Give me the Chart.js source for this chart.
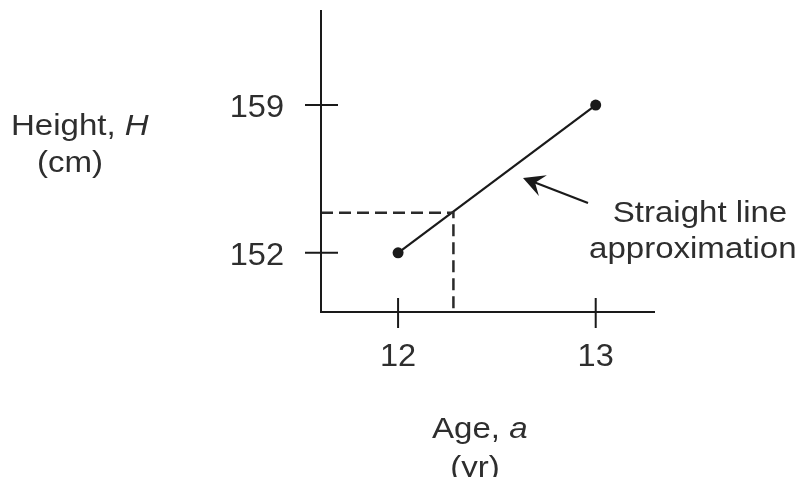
<!DOCTYPE html>
<html>
<head>
<meta charset="utf-8">
<title>Height vs age</title>
<script src="https://cdn.jsdelivr.net/npm/chart.js@4/dist/chart.umd.min.js"></script>
<style>
  html, body { margin: 0; padding: 0; background: #fff; }
  #wrap { width: 801px; height: 477px; }
</style>
</head>
<body>
<div id="wrap"><canvas id="chart"></canvas></div>
<script>
// measured points
const ages = [12, 13];
const heights = [152, 159];
// value
const readAge = [12.28];
const readHeight = [153.9];
// labelled ticks
const xTicks = [12, 13];
const yTicks = [152, 159];
// axis extents
const xRange = [11.61, 13.3];
const yRange = [149.2, 163.5];

const ink = "#1a1a1a";
const textInk = "#2e2e2e";
const family = '"Liberation Sans", Arial, sans-serif';
const titleSize = 29.5;
const titleStretch = 1.12;

// text in the drawing is a bit wide, so stretch it horizontally
function drawText(ctx, str, x, y, size, align, italic, sx) {
  ctx.save();
  ctx.font = (italic ? "italic " : "") + size + "px " + family;
  ctx.fillStyle = textInk;
  ctx.textBaseline = "alphabetic";
  const w = ctx.measureText(str).width * sx;
  let left = x;
  if (align === "center") left = x - w / 2;
  if (align === "right") left = x - w;
  ctx.translate(left, y);
  ctx.scale(sx, 1);
  ctx.textAlign = "left";
  ctx.fillText(str, 0, 0);
  ctx.restore();
  return w;
}

const axesPlugin = {
  id: "handAxes",
  afterDraw(chart) {
    const ctx = chart.ctx;
    const area = chart.chartArea;
    const xs = chart.scales.x;
    const ys = chart.scales.y;

    ctx.save();
    ctx.strokeStyle = ink;
    ctx.lineWidth = 2;
    ctx.beginPath();
    ctx.moveTo(area.left, area.top);
    ctx.lineTo(area.left, area.bottom);
    ctx.lineTo(area.right, area.bottom);
    ctx.stroke();

    // ticks crossing the axes
    ctx.beginPath();
    yTicks.forEach(v => {
      const py = ys.getPixelForValue(v);
      ctx.moveTo(area.left - 16, py);
      ctx.lineTo(area.left + 17, py);
    });
    xTicks.forEach(v => {
      const px = xs.getPixelForValue(v);
      ctx.moveTo(px, area.bottom - 14);
      ctx.lineTo(px, area.bottom + 16);
    });
    ctx.stroke();
    ctx.restore();

    // tick labels
    yTicks.forEach(v => {
      drawText(ctx, String(v), area.left - 37, ys.getPixelForValue(v) + 12, 31, "right", false, 1.05);
    });
    xTicks.forEach(v => {
      drawText(ctx, String(v), xs.getPixelForValue(v), area.bottom + 54, 31, "center", false, 1.05);
    });

    // axis titles
    let w = drawText(ctx, "Height, ", 11, 135, titleSize, "left", false, titleStretch);
    drawText(ctx, "H", 11 + w, 135, titleSize, "left", true, titleStretch);
    drawText(ctx, "(cm)", 70, 172, titleSize, "center", false, titleStretch);

    w = drawText(ctx, "Age, ", 432, 438, titleSize, "left", false, titleStretch);
    drawText(ctx, "a", 432 + w, 438, titleSize, "left", true, titleStretch);
    drawText(ctx, "(yr)", 475, 477, titleSize, "center", false, titleStretch);

    // annotation
    drawText(ctx, "Straight line", 700, 222, titleSize, "center", false, titleStretch);
    drawText(ctx, "approximation", 589, 258, titleSize, "left", false, titleStretch);

    const tip = { x: 523, y: 178 };
    const tail = { x: 588, y: 203 };
    const ang = Math.atan2(tail.y - tip.y, tail.x - tip.x);
    ctx.save();
    ctx.strokeStyle = ink;
    ctx.fillStyle = ink;
    ctx.lineWidth = 2.2;
    ctx.beginPath();
    ctx.moveTo(tip.x + 10 * Math.cos(ang), tip.y + 10 * Math.sin(ang));
    ctx.lineTo(tail.x, tail.y);
    ctx.stroke();
    const len = 24, spread = 0.48;
    ctx.beginPath();
    ctx.moveTo(tip.x, tip.y);
    ctx.lineTo(tip.x + len * Math.cos(ang - spread), tip.y + len * Math.sin(ang - spread));
    ctx.lineTo(tip.x + 13 * Math.cos(ang), tip.y + 13 * Math.sin(ang));
    ctx.lineTo(tip.x + len * Math.cos(ang + spread), tip.y + len * Math.sin(ang + spread));
    ctx.closePath();
    ctx.fill();
    ctx.restore();
  }
};

new Chart(document.getElementById("chart"), {
  type: "scatter",
  data: {
    datasets: [
      {
        // dashed read-off lines
        data: [
          { x: xRange[0], y: readHeight[0] },
          { x: readAge[0], y: readHeight[0] },
          { x: readAge[0], y: yRange[0] }
        ],
        showLine: true,
        borderColor: "#2a2a2a",
        borderWidth: 2.5,
        borderDash: [12, 6],
        pointRadius: 0
      },
      {
        data: ages.map((a, i) => ({ x: a, y: heights[i] })),
        showLine: true,
        borderColor: ink,
        borderWidth: 2.2,
        pointRadius: 5.5,
        pointBackgroundColor: ink,
        pointBorderWidth: 0
      }
    ]
  },
  options: {
    responsive: true,
    maintainAspectRatio: false,
    animation: false,
    layout: { padding: { left: 321, right: 146, top: 10, bottom: 165 } },
    scales: {
      x: { type: "linear", min: xRange[0], max: xRange[1], display: false },
      y: { type: "linear", min: yRange[0], max: yRange[1], display: false }
    },
    plugins: {
      legend: { display: false },
      tooltip: { enabled: false }
    }
  },
  plugins: [axesPlugin]
});
</script>
</body>
</html>
